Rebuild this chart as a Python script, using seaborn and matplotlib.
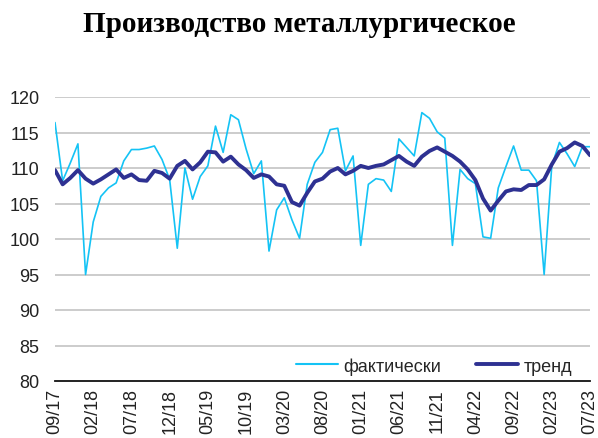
import matplotlib
matplotlib.use("Agg")
import matplotlib.pyplot as plt
import seaborn as sns
import pandas as pd
from matplotlib.lines import Line2D

months = ["09/17","10/17","11/17","12/17","01/18","02/18","03/18","04/18","05/18","06/18",
          "07/18","08/18","09/18","10/18","11/18","12/18","01/19","02/19","03/19","04/19",
          "05/19","06/19","07/19","08/19","09/19","10/19","11/19","12/19","01/20","02/20",
          "03/20","04/20","05/20","06/20","07/20","08/20","09/20","10/20","11/20","12/20",
          "01/21","02/21","03/21","04/21","05/21","06/21","07/21","08/21","09/21","10/21",
          "11/21","12/21","01/22","02/22","03/22","04/22","05/22","06/22","07/22","08/22",
          "09/22","10/22","11/22","12/22","01/23","02/23","03/23","04/23","05/23","06/23",
          "07/23"]

actual = [116.4, 108.2, 110.7, 113.4, 95.0, 102.4, 106.0, 107.2, 107.9, 111.0,
          112.6, 112.6, 112.8, 113.1, 111.2, 108.4, 98.7, 110.0, 105.6, 108.8,
          110.3, 115.9, 112.2, 117.5, 116.8, 112.7, 109.2, 111.0, 98.3, 104.1,
          105.8, 102.7, 100.1, 107.7, 110.8, 112.2, 115.4, 115.6, 109.6, 111.7,
          99.1, 107.7, 108.5, 108.3, 106.7, 114.1, 112.9, 111.7, 117.8, 117.0,
          115.1, 114.2, 99.1, 109.8, 108.5, 107.8, 100.3, 100.1, 107.2, 110.2,
          113.1, 109.7, 109.7, 108.2, 95.0, 110.3, 113.6, 112.0, 110.2, 113.0,
          113.0]

trend = [109.7, 107.7, 108.6, 109.7, 108.5, 107.8, 108.4, 109.1, 109.8, 108.6,
         109.1, 108.3, 108.2, 109.6, 109.3, 108.5, 110.3, 111.0, 109.8, 110.8,
         112.3, 112.2, 110.9, 111.6, 110.5, 109.7, 108.6, 109.1, 108.8, 107.7,
         107.5, 105.2, 104.7, 106.5, 108.1, 108.5, 109.5, 110.0, 109.1, 109.6,
         110.3, 110.0, 110.3, 110.5, 111.1, 111.7, 110.9, 110.3, 111.6, 112.4,
         112.9, 112.3, 111.7, 110.9, 109.8, 108.3, 105.7, 104.0, 105.4, 106.7,
         107.0, 106.9, 107.6, 107.6, 108.4, 110.5, 112.3, 112.8, 113.6, 113.1,
         111.8]

series_names = ["фактически", "тренд"]
title = "Производство металлургическое"
yticks = [80, 85, 90, 95, 100, 105, 110, 115, 120]

sns.set_theme(style="white")
plt.rcParams['font.family'] = ['Liberation Sans', 'DejaVu Sans']

df = pd.DataFrame({"idx": list(range(len(months))) * 2,
                   "value": actual + trend,
                   "series": [series_names[0]] * len(actual) + [series_names[1]] * len(trend)})

fig = plt.figure(figsize=(5.98, 4.39), dpi=100)
ax = fig.add_axes([55 / 598, 57 / 439, 535 / 598, 284 / 439])

for y in yticks[1:]:
    ax.axhline(y, color="#c8c8c8", lw=1.3, zorder=0)

sns.lineplot(data=df, x="idx", y="value", hue="series", hue_order=series_names,
             palette=["#14c3f5", "#2e3192"], size="series",
             sizes={series_names[0]: 1.2, series_names[1]: 2.8},
             size_order=series_names, ax=ax, legend=False, zorder=3)

ax.set_xlim(0, len(months) - 1)
ax.set_ylim(80, 120)
ax.set_yticks(yticks)
ax.set_yticklabels([str(v) for v in yticks], fontsize=13, color="#222222")
xt = list(range(0, len(months), 5))
ax.set_xticks(xt)
ax.set_xticklabels([months[i] for i in xt], rotation=90, fontsize=13, color="#222222")
ax.tick_params(axis="y", length=0, pad=11)
ax.tick_params(axis="x", length=0, pad=5)
ax.set_xlabel("")
ax.set_ylabel("")
for s in ["left", "right", "top"]:
    ax.spines[s].set_visible(False)
ax.spines["bottom"].set_color("#111111")
ax.spines["bottom"].set_linewidth(1.3)
ax.spines["bottom"].set_zorder(4)

handles = [Line2D([], [], color="#14c3f5", lw=1.5), Line2D([], [], color="#2e3192", lw=2.8)]
ax.legend(handles, series_names, loc="center", bbox_to_anchor=(0.708, 0.053), ncol=2,
          frameon=False, fontsize=13, handlelength=2.33, columnspacing=1.95, handletextpad=0.3)

fig.text(0.5, 0.945, title, ha="center", va="center", fontsize=21, fontweight="bold",
         family=["Liberation Serif", "DejaVu Serif"], color="#000000")

fig.savefig("out.png", dpi=100)
